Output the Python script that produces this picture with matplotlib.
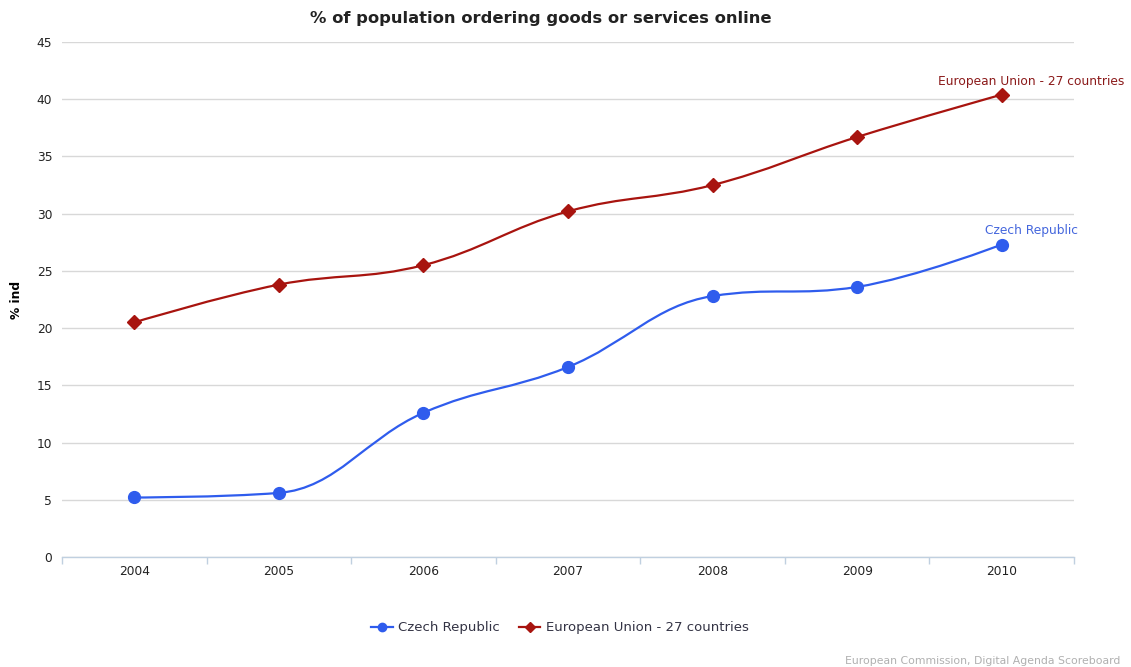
import numpy as np
import matplotlib
matplotlib.use("Agg")
import matplotlib.pyplot as plt
from matplotlib.path import Path
from matplotlib.patches import PathPatch
from matplotlib.lines import Line2D

years = ["2004", "2005", "2006", "2007", "2008", "2009", "2010"]
czech = [5.2, 5.6, 12.6, 16.6, 22.8, 23.6, 27.3]
eu27 = [20.5, 23.8, 25.5, 30.2, 32.5, 36.7, 40.4]

czech_name = "Czech Republic"
eu_name = "European Union - 27 countries"
czech_col = "#2f5ced"
eu_col = "#a8140f"


def spline_path(xs, ys, smoothing=1.5):
    # bezier control points in the style of a highcharts spline
    n = len(xs)
    denom = smoothing + 1
    left = [(xs[i], ys[i]) for i in range(n)]
    right = [(xs[i], ys[i]) for i in range(n)]
    for i in range(1, n - 1):
        px, py = xs[i], ys[i]
        lx = (smoothing * px + xs[i - 1]) / denom
        ly = (smoothing * py + ys[i - 1]) / denom
        rx = (smoothing * px + xs[i + 1]) / denom
        ry = (smoothing * py + ys[i + 1]) / denom
        if rx != lx:
            corr = (ry - ly) * (rx - px) / (rx - lx) + py - ry
            ly += corr
            ry += corr
        # keep the curve from overshooting neighbours
        if ly > max(ys[i - 1], py):
            ly = max(ys[i - 1], py)
            ry = 2 * py - ly
        elif ly < min(ys[i - 1], py):
            ly = min(ys[i - 1], py)
            ry = 2 * py - ly
        if ry > max(py, ys[i + 1]):
            ry = max(py, ys[i + 1])
            ly = 2 * py - ry
        elif ry < min(py, ys[i + 1]):
            ry = min(py, ys[i + 1])
            ly = 2 * py - ry
        left[i] = (lx, ly)
        right[i] = (rx, ry)
    verts = [(xs[0], ys[0])]
    codes = [Path.MOVETO]
    for i in range(1, n):
        verts += [right[i - 1], left[i], (xs[i], ys[i])]
        codes += [Path.CURVE4] * 3
    return Path(verts, codes)


fig = plt.figure(figsize=(11.31, 6.67), dpi=100)
ax = fig.add_axes([62 / 1131, 1 - 557 / 667, 1012 / 1131, 515 / 667])

x = np.arange(len(years))

for vals, col, mk, ms in [(eu27, eu_col, "D", 7.5), (czech, czech_col, "o", 8.5)]:
    ax.add_patch(PathPatch(spline_path(x, vals), fill=False, edgecolor=col,
                           lw=1.6, zorder=3, capstyle="round"))
    ax.plot(x, vals, ls="none", marker=mk, ms=ms, color=col, mec=col, zorder=4)

ax.annotate(eu_name, (x[-1], eu27[-1]), xytext=(29, 13), textcoords="offset pixels",
            ha="center", va="center", fontsize=8.8, color="#8b1a1a", annotation_clip=False)
ax.annotate(czech_name, (x[-1], czech[-1]), xytext=(30, 14), textcoords="offset pixels",
            ha="center", va="center", fontsize=8.8, color="#4466dd", annotation_clip=False)

ax.set_xlim(-0.5, len(years) - 0.5)
ax.set_ylim(0, 45)
ax.set_yticks(range(0, 50, 5))
ax.set_xticks(x)
ax.set_xticklabels(years)
ax.set_xticks(np.arange(-0.5, len(years), 1), minor=True)
ax.tick_params(axis="x", which="major", length=0, pad=6, labelsize=8.8, labelcolor="#222222")
ax.tick_params(axis="x", which="minor", length=5, color="#c0d0e0", width=1)
ax.tick_params(axis="y", length=0, pad=7, labelsize=8.8, labelcolor="#222222")
ax.grid(axis="y", color="#d8d8d8", lw=1)
ax.set_axisbelow(True)
for s in ["top", "right", "left"]:
    ax.spines[s].set_visible(False)
ax.spines["bottom"].set_color("#c0d0e0")
ax.spines["bottom"].set_linewidth(1)

ax.set_ylabel("% ind", fontsize=8.8, fontweight="bold", labelpad=10)
fig.text(0.478, 1 - 18 / 667, "% of population ordering goods or services online",
         ha="center", va="center", fontsize=11.8, fontweight="bold", color="#222222")

handles = [
    Line2D([], [], color=czech_col, marker="o", ms=6, lw=1.6),
    Line2D([], [], color=eu_col, marker="D", ms=5, lw=1.6),
]
leg = fig.legend(handles, [czech_name, eu_name], loc="center", ncol=2,
                 bbox_to_anchor=(560 / 1131, 1 - 628 / 667), frameon=False,
                 fontsize=9.5, handlelength=1.6, columnspacing=1.5, handletextpad=0.4)
for t in leg.get_texts():
    t.set_color("#333344")

fig.text(1120 / 1131, 1 - 661 / 667, "European Commission, Digital Agenda Scoreboard",
         ha="right", va="center", fontsize=7.8, color="#b0b0b0")

fig.savefig("out.png", dpi=100)
